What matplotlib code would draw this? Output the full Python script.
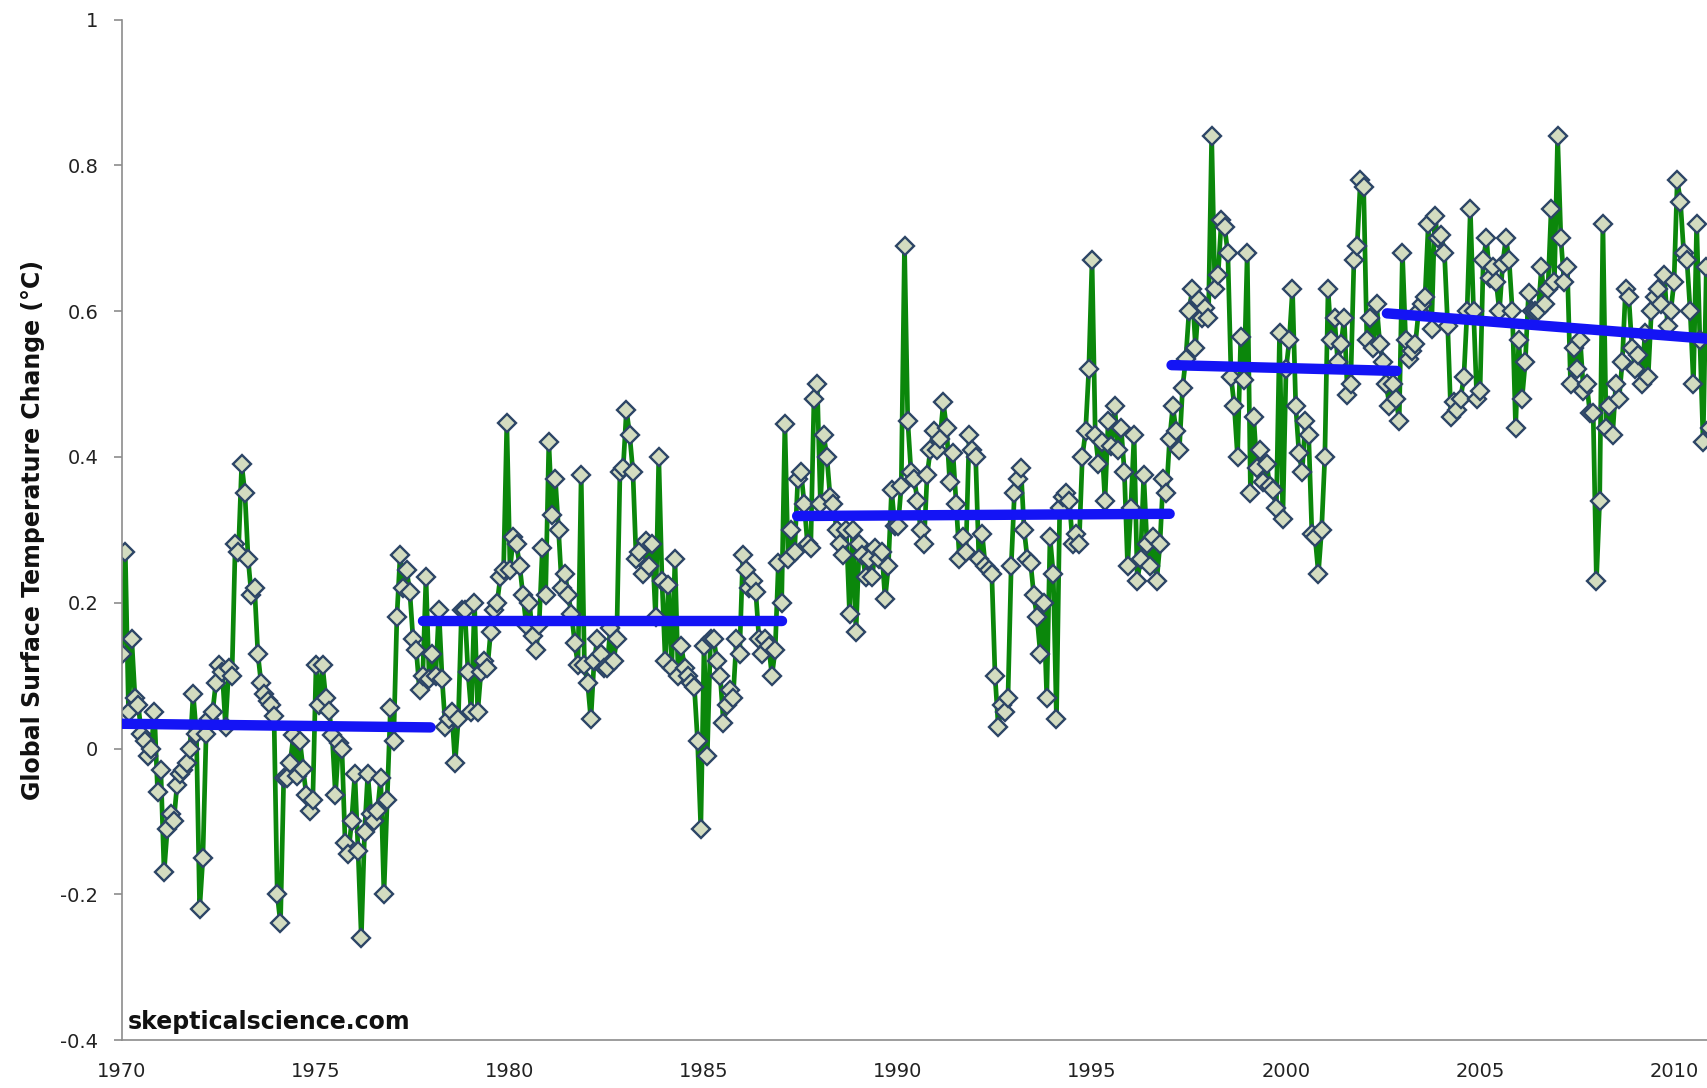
"""Monthly global surface temperature change 1970-2010 with piecewise trend lines."""

import numpy as np
import matplotlib.pyplot as plt

# monthly anomalies (deg C), January 1970 onwards
anom_1970s = [
    0.13, 0.27, 0.05, 0.15, 0.07, 0.06, 0.02, 0.01, -0.01, 0.00, 0.05, -0.06,
    -0.03, -0.17, -0.11, -0.09, -0.10, -0.05, -0.035, -0.03, -0.02, 0.00, 0.075, 0.02,
    -0.22, -0.15, 0.02, 0.04, 0.05, 0.09, 0.115, 0.105, 0.03, 0.11, 0.10, 0.28,
    0.27, 0.39, 0.35, 0.26, 0.21, 0.22, 0.13, 0.09, 0.075, 0.065, 0.06, 0.045,
    -0.20, -0.24, -0.04, -0.04, -0.02, 0.018, -0.037, 0.011, -0.028, -0.064, -0.085, -0.07,
    0.115, 0.06, 0.114, 0.07, 0.052, 0.018, -0.064, 0.008, 0.0, -0.13, -0.144, -0.10,
    -0.035, -0.14, -0.26, -0.115, -0.035, -0.09, -0.10, -0.085, -0.04, -0.20, -0.07, 0.055,
    0.01, 0.18, 0.265, 0.22, 0.245, 0.215, 0.15, 0.135, 0.08, 0.10, 0.235, 0.095,
    0.13, 0.10, 0.19, 0.095, 0.03, 0.04, 0.05, -0.02, 0.04, 0.19, 0.19, 0.105,
    0.05, 0.20, 0.05, 0.105, 0.12, 0.11, 0.16, 0.19, 0.20, 0.235, 0.245, 0.447,
]
anom_1980s = [
    0.245, 0.29, 0.28, 0.25, 0.21, 0.17, 0.20, 0.155, 0.135, 0.17, 0.275, 0.21,
    0.42, 0.32, 0.37, 0.30, 0.22, 0.24, 0.21, 0.185, 0.145, 0.115, 0.375, 0.115,
    0.09, 0.04, 0.12, 0.15, 0.13, 0.11, 0.11, 0.165, 0.12, 0.15, 0.38, 0.385,
    0.465, 0.43, 0.38, 0.26, 0.27, 0.24, 0.285, 0.25, 0.28, 0.18, 0.40, 0.23,
    0.12, 0.225, 0.11, 0.26, 0.10, 0.14, 0.11, 0.10, 0.09, 0.085, 0.01, -0.11,
    0.14, -0.01, 0.15, 0.15, 0.12, 0.10, 0.035, 0.06, 0.08, 0.07, 0.15, 0.13,
    0.265, 0.245, 0.22, 0.23, 0.215, 0.15, 0.13, 0.15, 0.14, 0.10, 0.135, 0.255,
    0.20, 0.445, 0.26, 0.30, 0.27, 0.37, 0.38, 0.335, 0.28, 0.275, 0.48, 0.50,
    0.335, 0.43, 0.40, 0.345, 0.335, 0.30, 0.28, 0.265, 0.30, 0.185, 0.30, 0.16,
    0.28, 0.265, 0.235, 0.26, 0.235, 0.275, 0.26, 0.27, 0.205, 0.25, 0.355, 0.305,
]
anom_1990s = [
    0.305, 0.36, 0.69, 0.45, 0.38, 0.37, 0.34, 0.30, 0.28, 0.375, 0.41, 0.435,
    0.41, 0.425, 0.475, 0.44, 0.365, 0.405, 0.335, 0.26, 0.29, 0.27, 0.43, 0.41,
    0.40, 0.26, 0.295, 0.25, 0.245, 0.24, 0.10, 0.03, 0.06, 0.05, 0.07, 0.25,
    0.35, 0.37, 0.385, 0.30, 0.26, 0.255, 0.21, 0.18, 0.13, 0.20, 0.07, 0.29,
    0.24, 0.04, 0.33, 0.345, 0.35, 0.34, 0.28, 0.295, 0.28, 0.40, 0.435, 0.52,
    0.67, 0.43, 0.39, 0.42, 0.34, 0.45, 0.415, 0.47, 0.41, 0.44, 0.38, 0.25,
    0.33, 0.43, 0.23, 0.26, 0.375, 0.28, 0.25, 0.29, 0.23, 0.28, 0.37, 0.35,
    0.425, 0.47, 0.435, 0.41, 0.495, 0.535, 0.60, 0.63, 0.55, 0.615, 0.59, 0.605,
    0.59, 0.84, 0.63, 0.65, 0.725, 0.715, 0.68, 0.51, 0.47, 0.40, 0.565, 0.505,
    0.68, 0.35, 0.455, 0.385, 0.41, 0.365, 0.39, 0.36, 0.355, 0.33, 0.57, 0.315,
]
anom_2000s = [
    0.52, 0.56, 0.63, 0.47, 0.405, 0.38, 0.45, 0.43, 0.295, 0.29, 0.24, 0.30,
    0.40, 0.63, 0.56, 0.59, 0.53, 0.555, 0.59, 0.485, 0.50, 0.67, 0.69, 0.78,
    0.77, 0.56, 0.59, 0.55, 0.61, 0.555, 0.53, 0.50, 0.47, 0.50, 0.48, 0.45,
    0.68, 0.56, 0.535, 0.545, 0.555, 0.60, 0.61, 0.62, 0.72, 0.575, 0.73, 0.70,
    0.705, 0.68, 0.58, 0.455, 0.475, 0.465, 0.48, 0.51, 0.60, 0.74, 0.60, 0.48,
    0.49, 0.67, 0.70, 0.645, 0.66, 0.64, 0.60, 0.665, 0.70, 0.67, 0.60, 0.44,
    0.56, 0.48, 0.53, 0.625, 0.60, 0.60, 0.60, 0.66, 0.61, 0.63, 0.74, 0.64,
    0.84, 0.70, 0.64, 0.66, 0.50, 0.55, 0.52, 0.56, 0.49, 0.50, 0.46, 0.46,
    0.23, 0.34, 0.72, 0.44, 0.47, 0.43, 0.50, 0.48, 0.53, 0.63, 0.62, 0.55,
    0.52, 0.54, 0.50, 0.57, 0.51, 0.60, 0.62, 0.63, 0.61, 0.65, 0.58, 0.60,
]
anom_2010 = [0.64, 0.78, 0.75, 0.68, 0.67, 0.60, 0.50, 0.72, 0.56, 0.42, 0.66, 0.44]

# piecewise trend segments (blue)
trend_start_year = [1970.0, 1977.75, 1987.4, 1997.05, 2002.6]
trend_end_year = [1977.95, 1987.0, 1997.0, 2002.85, 2010.9]
trend_start_val = [0.034, 0.175, 0.319, 0.526, 0.597]
trend_end_val = [0.029, 0.175, 0.322, 0.518, 0.562]

year_ticks = [1970, 1975, 1980, 1985, 1990, 1995, 2000, 2005, 2010]
value_ticks = [-0.4, -0.2, 0, 0.2, 0.4, 0.6, 0.8, 1]
value_labels = ["-0.4", "-0.2", "0", "0.2", "0.4", "0.6", "0.8", "1"]


def main() -> None:
    anomaly = np.array(anom_1970s + anom_1980s + anom_1990s + anom_2000s + anom_2010)
    years = 1970 + np.arange(len(anomaly)) / 12.0

    fig = plt.figure(figsize=(17.07, 10.88), dpi=100)
    ax = fig.add_axes([0.0715, 0.044, 0.9285, 0.938])

    ax.plot(years, anomaly, color="#0b870b", linewidth=3.4, zorder=2,
            marker="D", markersize=9.5, markerfacecolor="#d3dcc0",
            markeredgecolor="#2c4566", markeredgewidth=1.7)

    for x0, x1, y0, y1 in zip(trend_start_year, trend_end_year, trend_start_val, trend_end_val):
        ax.plot([x0, x1], [y0, y1], color="#1414f5", linewidth=7.5,
                solid_capstyle="round", zorder=3)

    ax.set_xlim(1970, 2010.85)
    ax.set_ylim(-0.4, 1.0)
    ax.set_xticks(year_ticks)
    ax.set_yticks(value_ticks)
    ax.set_yticklabels(value_labels)

    for side in ("top", "right"):
        ax.spines[side].set_visible(False)
    for side in ("left", "bottom"):
        ax.spines[side].set_color("#8c8c8c")
        ax.spines[side].set_linewidth(1.2)

    ax.tick_params(axis="y", length=6, width=1.2, color="#8c8c8c", pad=11,
                   labelsize=14, labelcolor="#222222")
    ax.tick_params(axis="x", length=0, pad=16, labelsize=14, labelcolor="#222222")

    fig.text(0.0195, 0.513, "Global Surface Temperature Change (\u00b0C)",
             rotation=90, ha="center", va="center", fontsize=17,
             fontweight="bold", color="#111111")

    ax.text(1970.15, -0.375, "skepticalscience.com", ha="left", va="center",
            fontsize=17, fontweight="bold", color="#111111")

    fig.savefig("out.png", dpi=100)


if __name__ == "__main__":
    main()
